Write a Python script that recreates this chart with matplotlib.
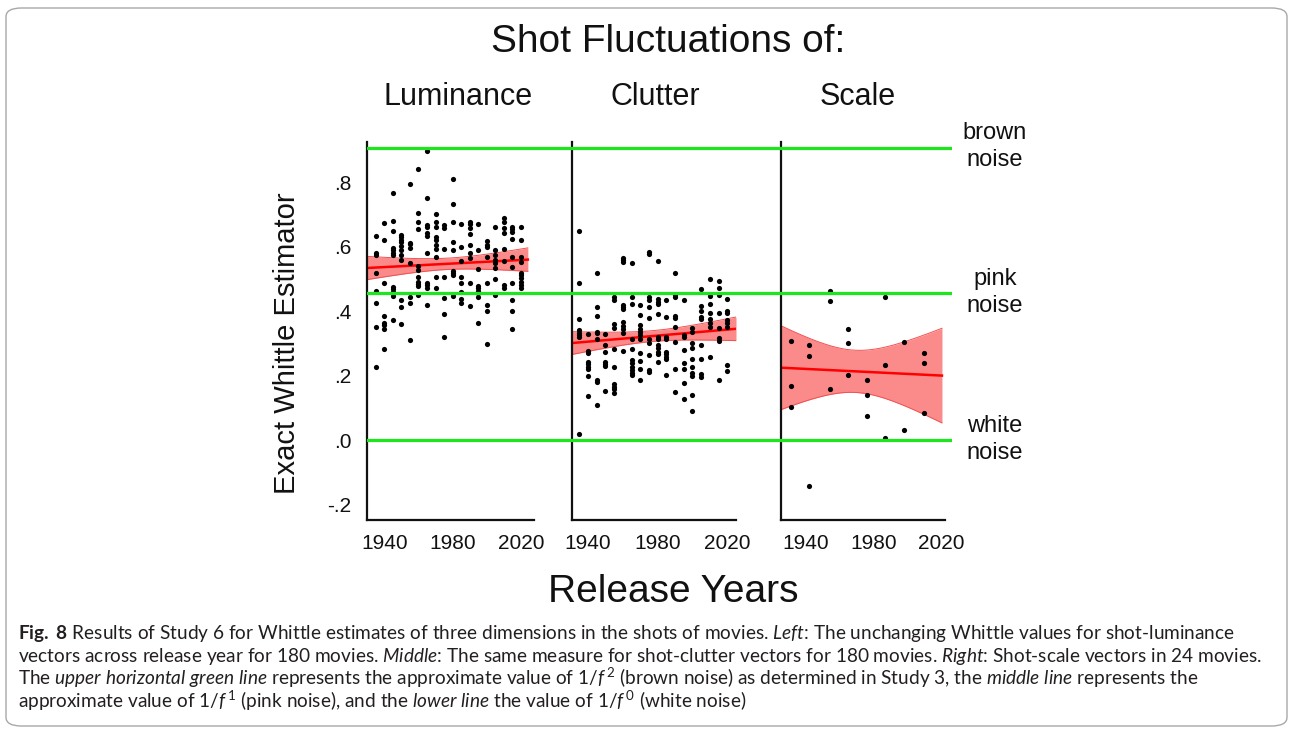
import numpy as np
import matplotlib
matplotlib.use("Agg")
import matplotlib.pyplot as plt
from matplotlib import font_manager
from matplotlib.patches import FancyBboxPatch

# ---------------- data ----------------
lum_years = [1935, 1940, 1945, 1950, 1955, 1960, 1965, 1970, 1975,
             1980, 1985, 1990, 1995, 2000, 2005, 2010, 2015, 2020]
lum_values = [
    [0.632, 0.582, 0.574, 0.518, 0.462, 0.425, 0.351, 0.226],
    [0.674, 0.621, 0.489, 0.386, 0.364, 0.356, 0.346, 0.284],
    [0.766, 0.680, 0.650, 0.596, 0.589, 0.582, 0.574, 0.476, 0.469, 0.461, 0.447, 0.373],
    [0.637, 0.629, 0.622, 0.614, 0.602, 0.589, 0.574, 0.559, 0.435, 0.412, 0.359],
    [0.796, 0.613, 0.607, 0.595, 0.549, 0.445, 0.424, 0.310],
    [0.841, 0.704, 0.678, 0.654, 0.540, 0.528, 0.507, 0.491, 0.485, 0.479, 0.449],
    [0.898, 0.752, 0.668, 0.660, 0.644, 0.632, 0.580, 0.487, 0.480, 0.471, 0.419],
    [0.702, 0.676, 0.660, 0.629, 0.621, 0.606, 0.592, 0.569, 0.507, 0.471],
    [0.667, 0.658, 0.594, 0.507, 0.440, 0.392, 0.320],
    [0.810, 0.733, 0.678, 0.616, 0.591, 0.526, 0.520, 0.513, 0.447],
    [0.671, 0.599, 0.557, 0.507, 0.487, 0.461, 0.437, 0.424],
    [0.678, 0.671, 0.657, 0.640, 0.606, 0.580, 0.564, 0.487, 0.416],
    [0.672, 0.590, 0.530, 0.478, 0.471, 0.464, 0.456, 0.443, 0.362],
    [0.619, 0.606, 0.598, 0.567, 0.487, 0.420, 0.402, 0.299],
    [0.660, 0.590, 0.575, 0.559, 0.549, 0.533, 0.501, 0.450],
    [0.688, 0.678, 0.657, 0.642, 0.592, 0.557, 0.481, 0.471],
    [0.662, 0.655, 0.645, 0.624, 0.569, 0.538, 0.489, 0.435, 0.400, 0.345],
    [0.660, 0.621, 0.569, 0.554, 0.520, 0.513, 0.502, 0.492, 0.481, 0.471],
]

clu_years = lum_years
clu_values = [
    [0.649, 0.489, 0.376, 0.342, 0.333, 0.326, 0.319, 0.018],
    [0.329, 0.277, 0.269, 0.243, 0.236, 0.228, 0.220, 0.199, 0.137],
    [0.520, 0.412, 0.385, 0.336, 0.331, 0.314, 0.186, 0.180, 0.108],
    [0.330, 0.294, 0.274, 0.243, 0.236, 0.230, 0.151],
    [0.443, 0.435, 0.360, 0.347, 0.284, 0.226, 0.174, 0.166, 0.157, 0.145],
    [0.565, 0.559, 0.552, 0.419, 0.412, 0.406, 0.365, 0.354, 0.344, 0.331, 0.276],
    [0.551, 0.443, 0.421, 0.315, 0.284, 0.248, 0.238, 0.226, 0.217, 0.209, 0.203],
    [0.419, 0.387, 0.356, 0.346, 0.335, 0.326, 0.313, 0.269, 0.246, 0.222, 0.185],
    [0.584, 0.577, 0.443, 0.435, 0.412, 0.379, 0.313, 0.302, 0.265, 0.217, 0.211],
    [0.555, 0.437, 0.430, 0.422, 0.391, 0.319, 0.313, 0.295, 0.285, 0.274, 0.267, 0.243],
    [0.435, 0.381, 0.319, 0.313, 0.274, 0.267, 0.259, 0.251, 0.202],
    [0.520, 0.450, 0.443, 0.386, 0.380, 0.350, 0.305, 0.220, 0.150],
    [0.434, 0.326, 0.319, 0.279, 0.238, 0.220, 0.178, 0.127],
    [0.347, 0.336, 0.300, 0.285, 0.253, 0.228, 0.207, 0.199, 0.141, 0.090],
    [0.469, 0.416, 0.402, 0.383, 0.375, 0.295, 0.253, 0.205, 0.197],
    [0.499, 0.447, 0.422, 0.393, 0.375, 0.362, 0.350, 0.259],
    [0.494, 0.471, 0.449, 0.395, 0.347, 0.316, 0.309, 0.186],
    [0.439, 0.402, 0.393, 0.372, 0.362, 0.352, 0.232, 0.215],
]

sca_years = [1931, 1942, 1954, 1965, 1976, 1987, 1998, 2010]
sca_values = [
    [0.306, 0.167, 0.102],
    [0.296, 0.260, -0.142],
    [0.464, 0.433, 0.159],
    [0.346, 0.300, 0.201],
    [0.186, 0.139, 0.076],
    [0.443, 0.234, 0.007],
    [0.303, 0.032],
    [0.271, 0.239, 0.085],
]

noise_levels = [0.907, 0.456, 0.0]
noise_labels = ["brown\nnoise", "pink\nnoise", "white\nnoise"]
panel_titles = ["Luminance", "Clutter", "Scale"]
x_ticks = [1940, 1980, 2020]
y_ticks = [-0.2, 0.0, 0.2, 0.4, 0.6, 0.8]
y_ticklabels = ["-.2", ".0", ".2", ".4", ".6", ".8"]

caption_lines = [
    r"$\mathbf{Fig.}$ $\mathbf{8}$ Results of Study 6 for Whittle estimates of three dimensions in the shots of movies. $\mathit{Left}$: The unchanging Whittle values for shot-luminance",
    r"vectors across release year for 180 movies. $\mathit{Middle}$: The same measure for shot-clutter vectors for 180 movies. $\mathit{Right}$: Shot-scale vectors in 24 movies.",
    r"The $\mathit{upper}$ $\mathit{horizontal}$ $\mathit{green}$ $\mathit{line}$ represents the approximate value of 1/$\mathit{f}^{\,2}$ (brown noise) as determined in Study 3, the $\mathit{middle}$ $\mathit{line}$ represents the",
    r"approximate value of 1/$\mathit{f}^{\,1}$ (pink noise), and the $\mathit{lower}$ $\mathit{line}$ the value of 1/$\mathit{f}^{\,0}$ (white noise)",
]

# ---------------- styling ----------------
W, H = 1290, 730
avail = {f.name for f in font_manager.fontManager.ttflist}
CHART_FONT = "Liberation Sans Narrow" if "Liberation Sans Narrow" in avail else "Liberation Sans"
CAP_FONT = "Lato" if "Lato" in avail else "DejaVu Sans"
plt.rcParams["font.family"] = [CHART_FONT, "DejaVu Sans"]
plt.rcParams["mathtext.fontset"] = "custom"
plt.rcParams["mathtext.rm"] = CAP_FONT
plt.rcParams["mathtext.it"] = CAP_FONT + ":italic"
plt.rcParams["mathtext.bf"] = CAP_FONT + ":bold"

GREEN = "#1ee61e"
RED = "#ff0000"
BAND = "#fb8b8b"
INK = "#111111"


def fx(x):
    return x / W


def fy(y):
    return 1 - y / H


def rect(l, t, r, b):
    return [fx(l), fy(b), (r - l) / W, (b - t) / H]


YLIM = (-0.248, 0.925)

fig = plt.figure(figsize=(W / 100, H / 100), dpi=100)
fig.patch.set_facecolor("white")

panels = [
    (lum_years, lum_values, rect(367, 142, 534, 520), (1929.9, 2027.6), 2024.0),
    (clu_years, clu_values, rect(572, 142, 736, 520), (1930.8, 2025.0), 2025.0),
    (sca_years, sca_values, rect(781, 142, 945, 520), (1925.2, 2022.4), 2020.6),
]


def tcrit(df):
    return 1.96 + 2.5 / df


for i, (years, vals, r, xlim, fit_end) in enumerate(panels):
    ax = fig.add_axes(r)
    ax.set_facecolor("none")
    x = np.concatenate([[yr] * len(v) for yr, v in zip(years, vals)]).astype(float)
    y = np.concatenate([np.asarray(v, float) for v in vals])

    # linear fit with 95% confidence band
    n = len(x)
    b, a = np.polyfit(x, y, 1)
    xs = np.linspace(xlim[0], fit_end, 200)
    yhat = a + b * xs
    resid = y - (a + b * x)
    s = np.sqrt(np.sum(resid ** 2) / (n - 2))
    xm = x.mean()
    se = s * np.sqrt(1 / n + (xs - xm) ** 2 / np.sum((x - xm) ** 2))
    t = tcrit(n - 2)
    ax.fill_between(xs, yhat - t * se, yhat + t * se, color=BAND, lw=0, zorder=1)
    ax.plot(xs, yhat - t * se, color="#f05050", lw=0.7, zorder=1.5)
    ax.plot(xs, yhat + t * se, color="#f05050", lw=0.7, zorder=1.5)
    ax.scatter(x, y, s=14, color="black", linewidths=0, zorder=3)
    ax.plot(xs, yhat, color=RED, lw=1.8, zorder=2.5)

    ax.set_xlim(*xlim)
    ax.set_ylim(*YLIM)
    for sp in ("top", "right"):
        ax.spines[sp].set_visible(False)
    for sp in ("left", "bottom"):
        ax.spines[sp].set_linewidth(1.6)
        ax.spines[sp].set_color(INK)
    ax.set_xticks(x_ticks)
    ax.set_xticklabels([str(v) for v in x_ticks], fontsize=15)
    ax.tick_params(axis="x", length=0, pad=10, colors=INK)
    if i == 0:
        ax.set_yticks(y_ticks)
        ax.set_yticklabels(y_ticklabels, fontsize=15)
        ax.tick_params(axis="y", length=0, pad=11, colors=INK)
    else:
        ax.set_yticks([])

# green reference lines spanning all panels
gax = fig.add_axes(rect(367, 142, 952, 520))
gax.set_ylim(*YLIM)
gax.set_xlim(0, 1)
gax.axis("off")
gax.patch.set_alpha(0)
for lvl in noise_levels:
    gax.axhline(lvl, color=GREEN, lw=2.3, zorder=5)

# noise labels
for lvl, lab in zip(noise_levels, noise_labels):
    ypix = 520 - (lvl - YLIM[0]) / (YLIM[1] - YLIM[0]) * 378
    fig.text(fx(995), fy(ypix - 1), lab, ha="center", va="center", fontsize=17,
             color=INK, linespacing=1.3)

# titles and axis labels
fig.text(fx(668), fy(42), "Shot Fluctuations of:", ha="center", va="center",
         fontsize=28, color=INK)
for tx, lab in zip([458, 655, 858], panel_titles):
    fig.text(fx(tx), fy(97), lab, ha="center", va="center", fontsize=22, color=INK)
fig.text(fx(287), fy(343), "Exact Whittle Estimator", ha="center", va="center",
         rotation=90, fontsize=21, color=INK)
fig.text(fx(673), fy(592), "Release Years", ha="center", va="center",
         fontsize=28, color=INK)

# caption (font size fitted to the width of the first line)
renderer = fig.canvas.get_renderer()
probe = fig.text(0, 0, caption_lines[0], fontsize=12, family=[CAP_FONT, "DejaVu Sans"])
w12 = probe.get_window_extent(renderer).width
probe.remove()
cap_fs = 12 * 1219 / w12
for k, line in enumerate(caption_lines):
    fig.text(fx(18), fy(639 + 23 * k), line, ha="left", va="baseline",
             fontsize=cap_fs, family=[CAP_FONT, "DejaVu Sans"], color="#231f20")

# rounded frame
frame = FancyBboxPatch((fx(6), fy(726)), (1281) / W, (718) / H,
                       boxstyle="round,pad=0,rounding_size=0.012",
                       transform=fig.transFigure, fill=False,
                       edgecolor="#a8a8a8", lw=1.0)
fig.patches.append(frame)

fig.savefig("out.png", dpi=100, facecolor="white")
